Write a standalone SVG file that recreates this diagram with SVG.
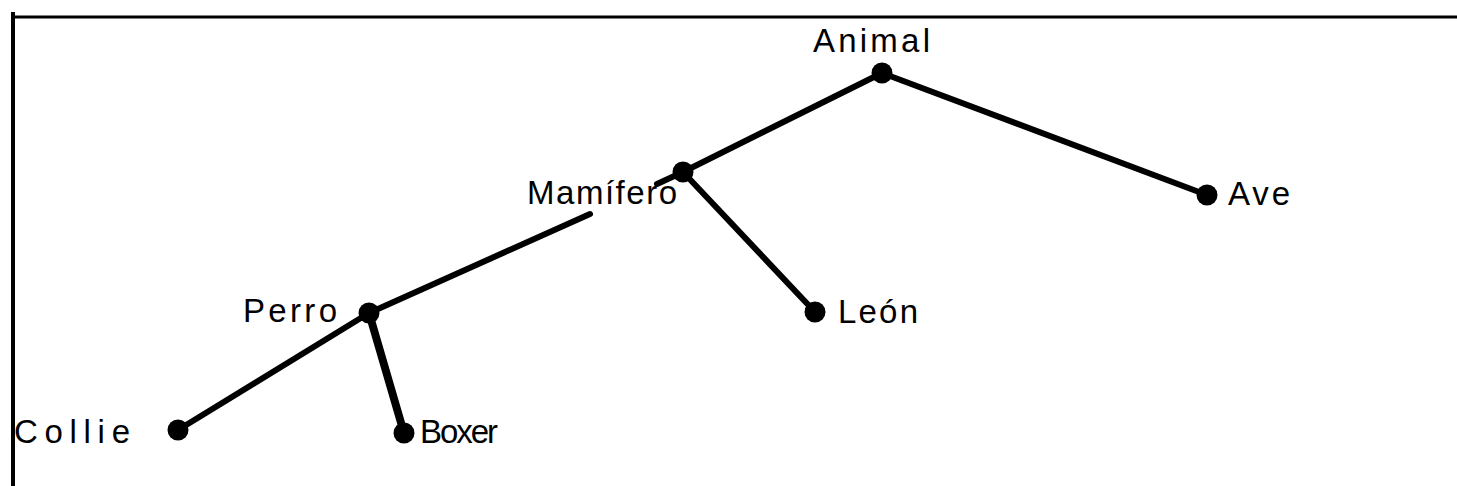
<svg xmlns="http://www.w3.org/2000/svg" width="1457" height="486" viewBox="0 0 1457 486">
<style>
.e{stroke:#000;stroke-width:6;stroke-linecap:round;fill:none}
.d{fill:#000}
.t{font-family:"Liberation Sans",sans-serif;font-size:33px;fill:#000}
</style>
<rect width="1457" height="486" fill="#fff"/>
<g id="frame">
<line x1="12" y1="17" x2="1457" y2="17" stroke="#000" stroke-width="3"/>
<line x1="13" y1="12" x2="13" y2="486" stroke="#000" stroke-width="4"/>
</g>
<g id="connectors">
<line class="e" x1="882" y1="73" x2="683" y2="172"/>
<line class="e" x1="882" y1="73" x2="1207" y2="195"/>
<line class="e" x1="683" y1="172" x2="815" y2="312"/>
<line class="e" x1="683" y1="172" x2="657" y2="184"/>
<line class="e" x1="590" y1="214" x2="369" y2="313"/>
<line class="e" x1="369" y1="313" x2="178" y2="430"/>
<line class="e" x1="369" y1="313" x2="404" y2="433" style="stroke-width:8"/>
</g>
<g id="n-animal"><circle class="d" cx="882" cy="73" r="10.5"/><text class="t" x="813" y="52" textLength="117">Animal</text></g>
<g id="n-mamifero"><circle class="d" cx="683" cy="172" r="10.5"/><text class="t" x="527" y="204" textLength="150">Mamífero</text></g>
<g id="n-ave"><circle class="d" cx="1207" cy="195" r="10.5"/><text class="t" x="1228" y="205" textLength="62">Ave</text></g>
<g id="n-leon"><circle class="d" cx="815" cy="312" r="10.5"/><text class="t" x="838" y="323" textLength="80">León</text></g>
<g id="n-perro"><circle class="d" cx="369" cy="313" r="10.5"/><text class="t" x="243" y="322" textLength="94">Perro</text></g>
<g id="n-collie"><circle class="d" cx="178" cy="430" r="10.5"/><text class="t" x="14" y="443" textLength="116">Collie</text></g>
<g id="n-boxer"><circle class="d" cx="404" cy="433" r="10.5"/><text class="t" x="420" y="443" textLength="78">Boxer</text></g>
</svg>
